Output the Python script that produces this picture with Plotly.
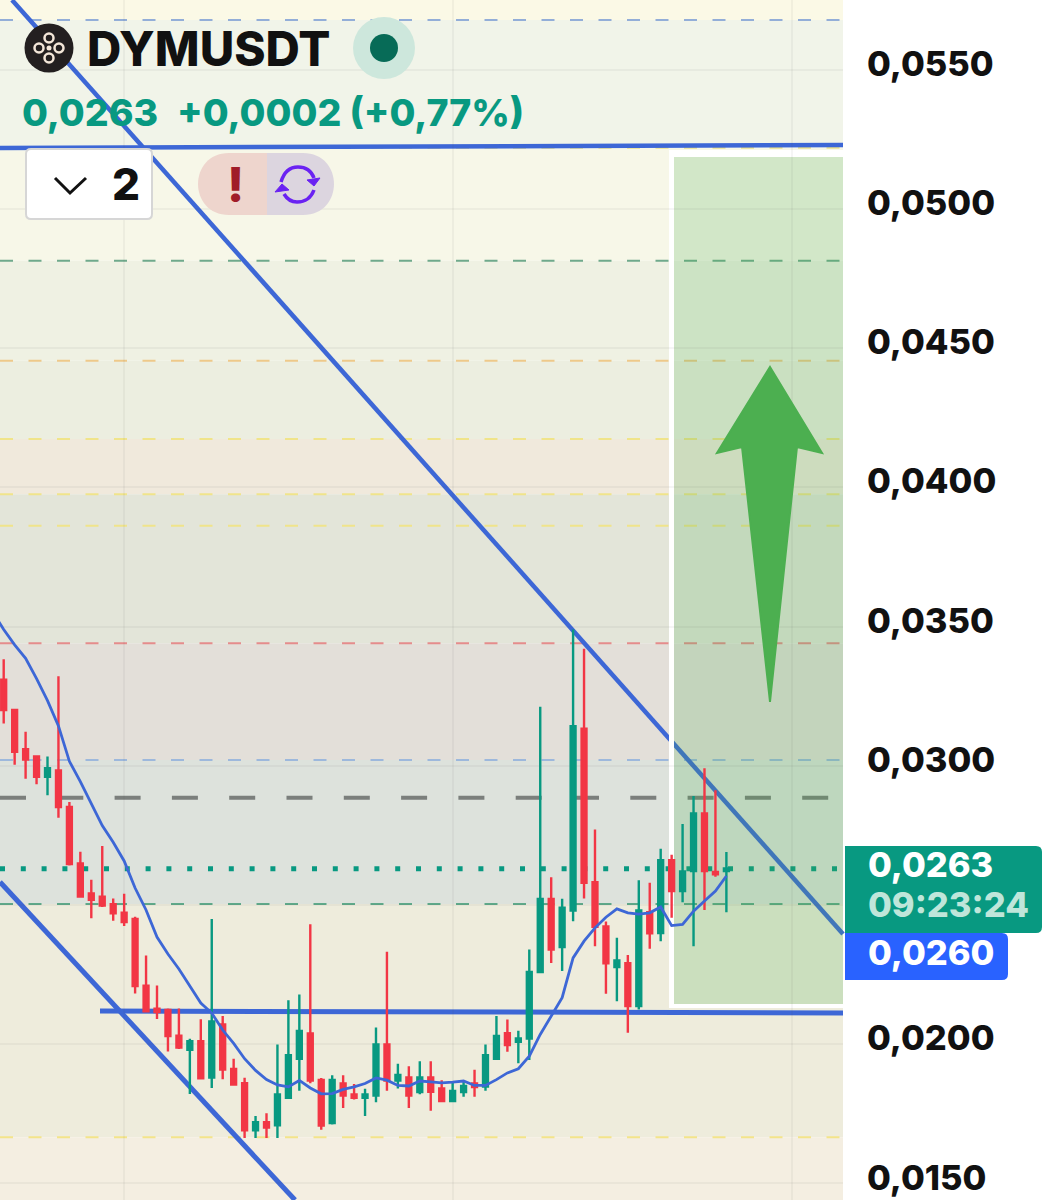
import plotly.graph_objects as go

W, H = 1057, 1200
PLOT_R = 843

# ---------- data (prices) ----------
days = list(range(67))
open_ = [.03309,.03200,.03059,.03033,.02960,.02983,.02852,.02649,.02541,.02530,
         .02503,.02472,.02450,.02210,.02128,.02123,.02031,.01980,.02011,.01880,
         .02071,.01911,.01860,.01691,.01720,.01709,.01808,.01948,.02039,.01872,
         .01717,.01859,.01820,.01808,.01816,.01999,.01870,.01881,.01828,.01881,
         .01841,.01796,.01828,.01859,.01848,.01948,.02040,.02009,.02020,.02259,
         .02522,.02349,.02480,.03133,.02582,.02423,.02277,.02291,.02137,.02474,
         .02399,.02661,.02550,.02622,.02829,.02619,.02622]
close = [.03200,.03050,.03022,.02960,.02991,.02852,.02647,.02530,.02519,.02498,
         .02470,.02439,.02209,.02118,.02116,.02029,.01988,.02011,.01878,.02082,
         .01909,.01855,.01691,.01720,.01701,.01820,.01961,.02048,.01870,.01708,
         .01872,.01816,.01808,.01820,.01999,.01870,.01890,.01816,.01881,.01829,
         .01796,.01832,.01850,.01846,.01961,.02030,.01997,.02021,.02260,.02522,
         .02340,.02490,.03142,.02580,.02422,.02291,.02301,.02137,.02480,.02398,
         .02661,.02550,.02620,.02829,.02622,.02610,.02631]
high = [.03382,.03200,.03122,.03033,.03033,.03321,.02870,.02691,.02591,.02712,
        .02523,.02540,.02458,.02319,.02211,.02128,.02128,.02020,.02090,.02450,
        .02101,.01948,.01880,.01742,.01752,.01999,.02158,.02179,.02431,.01879,
        .01889,.01889,.01857,.01840,.02060,.02332,.01930,.01921,.01939,.01939,
        .01871,.01862,.01870,.01908,.01999,.02101,.02089,.02048,.02340,.03212,
        .02600,.02522,.03489,.03420,.02771,.02441,.02382,.02320,.02589,.02580,
        .02702,.02680,.02791,.02891,.02991,.02912,.02690]
low = [.03152,.03004,.02953,.02934,.02894,.02813,.02642,.02530,.02452,.02493,
       .02443,.02425,.02182,.02118,.02091,.01974,.01983,.01821,.01874,.01843,
       .01874,.01851,.01663,.01663,.01663,.01663,.01808,.01833,.01860,.01693,
       .01712,.01771,.01802,.01742,.01792,.01833,.01841,.01771,.01820,.01761,
       .01792,.01792,.01811,.01811,.01833,.01948,.01973,.01932,.01943,.02259,
       .02292,.02263,.02442,.02523,.02352,.02181,.02154,.02041,.02125,.02343,
       .02370,.02454,.02510,.02352,.02482,.02601,.02474]
ma_days = [-1] + days
ma = [.03552,
      .03489,.03434,.03386,.03313,.03234,.03143,.03016,.02943,.02864,.02785,
      .02725,.02658,.02561,.02482,.02385,.02324,.02270,.02209,.02148,.02112,
      .02051,.02003,.01948,.01906,.01873,.01854,.01847,.01870,.01843,.01822,
      .01823,.01838,.01847,.01859,.01879,.01871,.01852,.01850,.01868,.01865,
      .01861,.01864,.01868,.01852,.01852,.01873,.01897,.01912,.01957,.02035,
      .02099,.02167,.02310,.02370,.02418,.02456,.02486,.02472,.02467,.02472,
      .02493,.02426,.02430,.02478,.02514,.02550,.02604]

tick_vals = [.055,.050,.045,.040,.035,.030,.025,.020,.015]
tick_text = ['0,0550','0,0500','0,0450','0,0400','0,0350','0,0300','','0,0200','0,0150']
month_ticks = [11, 41, 72]

zone_edges = [.0590,.05678,.05219,.04813,.04454,.04173,.03975,.03440,.03021,.02504,.01666,.0130]
zone_colors = ['#fbf9e6','#f1f4e9','#f7f7e8','#eff1e3','#eceee0','#f0e9dc','#e3e5d9',
               '#e3dfd9','#dde2dc','#eeecdc','#f4eee1']
level_prices = [.05678,.05219,.04813,.04454,.04173,.03975,.03862,.03440,.03021,.02504,.01666]
level_colors = ['#93aed8','#ede28a','#6fa98c','#eec98a','#f0e48a','#f0e48a','#f0e48a',
                '#e58c8c','#9db8dc','#5fa98a','#f3e48a']
prev_close_level = .02885
last_price = .02630

def X(x): return x / W
def Y(y): return 1 - y / H
def pt(p): return f"{X(p[0]):.5f},{Y(p[1]):.5f}"
def poly(points, close_=True):
    return "M" + " L".join(pt(p) for p in points) + (" Z" if close_ else "")
def curve(points):
    s = "M" + pt(points[0])
    for i in range(1, len(points), 3):
        s += " C" + " ".join(pt(p) for p in points[i:i+3])
    return s

shapes = []
def rect(x0, y0, x1, y1, color, layer="below", line=None, lw=0):
    shapes.append(dict(type="rect", xref="paper", yref="paper", x0=X(x0), x1=X(x1), y0=Y(y0), y1=Y(y1),
                       fillcolor=color, line=dict(color=line or color, width=lw), layer=layer))
def path(d, fill=None, line=None, lw=0, layer="above"):
    shapes.append(dict(type="path", xref="paper", yref="paper", path=d, fillcolor=fill or "rgba(0,0,0,0)",
                       line=dict(color=line or "rgba(0,0,0,0)", width=lw), layer=layer))
def circle(cx, cy, r, fill=None, line=None, lw=0, layer="above"):
    shapes.append(dict(type="circle", xref="paper", yref="paper", x0=X(cx-r), x1=X(cx+r), y0=Y(cy+r), y1=Y(cy-r),
                       fillcolor=fill or "rgba(0,0,0,0)", line=dict(color=line or "rgba(0,0,0,0)", width=lw), layer=layer))
def seg(p0, p1, color, lw, layer="below"):
    shapes.append(dict(type="line", xref="paper", yref="paper", x0=X(p0[0]), y0=Y(p0[1]), x1=X(p1[0]), y1=Y(p1[1]),
                       line=dict(color=color, width=lw), layer=layer))
def level(price, color, lw, dash):
    shapes.append(dict(type="line", xref="x domain", yref="y", x0=0, x1=1, y0=price, y1=price,
                       line=dict(color=color, width=lw, dash=dash), layer="below"))

# zones
for i, c in enumerate(zone_colors):
    shapes.append(dict(type="rect", xref="x domain", yref="y", x0=0, x1=1, y0=zone_edges[i+1], y1=zone_edges[i],
                       fillcolor=c, line=dict(width=0), layer="below"))
# levels
for p, c in zip(level_prices, level_colors):
    level(p, c, 2, "13px,15.5px")
level(prev_close_level, "#7b7f7c", 4, "26px,31.3px")
level(last_price, "#089981", 5, "5px,15.8px")

# trend lines
BLUE = "#3d67d6"
seg((12, 0), (843, 934), BLUE, 4.5)
seg((0, 882), (295, 1200), BLUE, 5)
seg((100, 1011), (843, 1013), BLUE, 5)
seg((0, 148), (843, 145), BLUE, 4.5)

# long-position box
rect(674, 157, 843, 1004, "rgba(76,175,80,0.21)")
rect(669, 150, 674, 1008, "#ffffff")
rect(669, 150, 843, 157, "#ffffff")
rect(669, 1004, 843, 1008, "#ffffff")

# arrow
path(poly([(770, 367), (822, 453), (797, 447), (770, 702), (742, 447), (717, 453)]), fill="#4caf50", line="#4caf50", lw=2)

# header: logo
circle(49, 48, 24.5, fill="#231f20")
for dx, dy in [(0, -10), (0, 10), (-10, 0), (10, 0)]:
    circle(49+dx, 48+dy, 4.5, line="#f3e6d8", lw=2.5)
circle(49, 48, 2.5, fill="#f3e6d8")
# status dot
circle(384, 48, 31, fill="#cde7dc")
circle(384, 48, 14, fill="#076b57")
# dropdown box
path("M"+pt((31,149))+" L"+pt((147,149))+" Q"+pt((152,149))+" "+pt((152,154))+" L"+pt((152,214))+" Q"+pt((152,219))+" "+pt((147,219))
     +" L"+pt((31,219))+" Q"+pt((26,219))+" "+pt((26,214))+" L"+pt((26,154))+" Q"+pt((26,149))+" "+pt((31,149))+" Z",
     fill="#ffffff", line="#d6d6d6", lw=2)
path(poly([(55,178),(70,193),(86,178)], close_=False), line="#111111", lw=3)
# pill
path("M"+pt((229,153))+" L"+pt((267,153))+" L"+pt((267,215))+" L"+pt((229,215))
     +" C"+pt((187.7,215))+" "+pt((187.7,153))+" "+pt((229,153))+" Z", fill="#eed5cd")
path("M"+pt((267,153))+" L"+pt((303,153))+" C"+pt((344.3,153))+" "+pt((344.3,215))+" "+pt((303,215))
     +" L"+pt((267,215))+" Z", fill="#dcd5df")
# refresh icon
PURPLE = "#6a22f2"
path(curve([(281,182),(284,172),(290,167),(298,167),(305,167),(311,170),(314,178)]), line=PURPLE, lw=3.5)
path(curve([(314,190),(311,198),(305,202),(297,202),(291,202),(287,199),(284,194)]), line=PURPLE, lw=3.5)
path(poly([(320,178),(314,186),(307,180)]), fill=PURPLE, line=PURPLE, lw=1)
path(poly([(275,192),(282,184),(289,190)]), fill=PURPLE, line=PURPLE, lw=1)

# price labels
path("M"+pt((845,846))+" L"+pt((1036,846))+" Q"+pt((1042,846))+" "+pt((1042,852))+" L"+pt((1042,927))+" Q"+pt((1042,933))+" "+pt((1036,933))
     +" L"+pt((845,933))+" Z", fill="#089981")
path("M"+pt((845,933))+" L"+pt((1002,933))+" Q"+pt((1008,933))+" "+pt((1008,939))+" L"+pt((1008,974))+" Q"+pt((1008,980))+" "+pt((1002,980))
     +" L"+pt((845,980))+" Z", fill="#2962ff")

FONT = "Inter"
WEIGHT = 800
def text(s, x, y, size, color, anchor="left"):
    return dict(text=s, xref="paper", yref="paper", x=X(x), y=Y(y), xanchor=anchor, yanchor="middle",
                showarrow=False, borderpad=0,
                font=dict(family=FONT, size=size, color=color, weight=WEIGHT))
annotations = [
    text("DYMUSDT", 86, 48, 47.5, "#111111"),
    text("0,0263", 21, 112, 37.5, "#089981"),
    text("+0,0002 (+0,77%)", 176, 112, 37.5, "#089981"),
    text("2", 126, 184, 44, "#111111", "center"),
    text("!", 235, 184, 48, "#a01c28", "center"),
    text("0,0263", 867, 864, 34.5, "#ffffff"),
    text("09:23:24", 867, 904, 34.5, "#bfe6da"),
    text("0,0260", 867, 952, 34.5, "#ffffff"),
]

fig = go.Figure()
fig.add_trace(go.Candlestick(
    x=days, open=open_, high=high, low=low, close=close, whiskerwidth=0,
    increasing=dict(line=dict(color="#089981", width=2.4), fillcolor="#089981"),
    decreasing=dict(line=dict(color="#f23645", width=2.4), fillcolor="#f23645"),
    hoverinfo="skip", showlegend=False))
fig.add_trace(go.Scatter(x=ma_days, y=ma, mode="lines", line=dict(color="#3d67d6", width=2.8),
                         hoverinfo="skip", showlegend=False))

GRID = "rgba(90,90,80,0.06)"
fig.update_layout(
    width=W, height=H, margin=dict(l=0, r=0, t=0, b=0), autosize=False,
    paper_bgcolor="#ffffff", plot_bgcolor="#ffffff", showlegend=False,
    boxmode="overlay", boxgap=0.36,
    xaxis=dict(domain=[0, PLOT_R / W], range=[-0.338, 76.65], rangeslider=dict(visible=False),
               tickvals=month_ticks, showticklabels=False, ticks="", showgrid=True, gridcolor=GRID, gridwidth=2,
               zeroline=False, showline=False),
    yaxis=dict(side="right", range=[.014407, .057496], tickvals=tick_vals, ticktext=tick_text,
               tickfont=dict(family=FONT, size=34.5, color="#111111", weight=WEIGHT),
               ticklabelstandoff=23, ticklabelshift=-6, ticks="",
               showgrid=True, gridcolor=GRID, gridwidth=2, zeroline=False, showline=False),
    shapes=shapes, annotations=annotations,
)
fig.write_html("out.html", config=dict(displayModeBar=False),
               post_script="document.body.style.margin='0';")
